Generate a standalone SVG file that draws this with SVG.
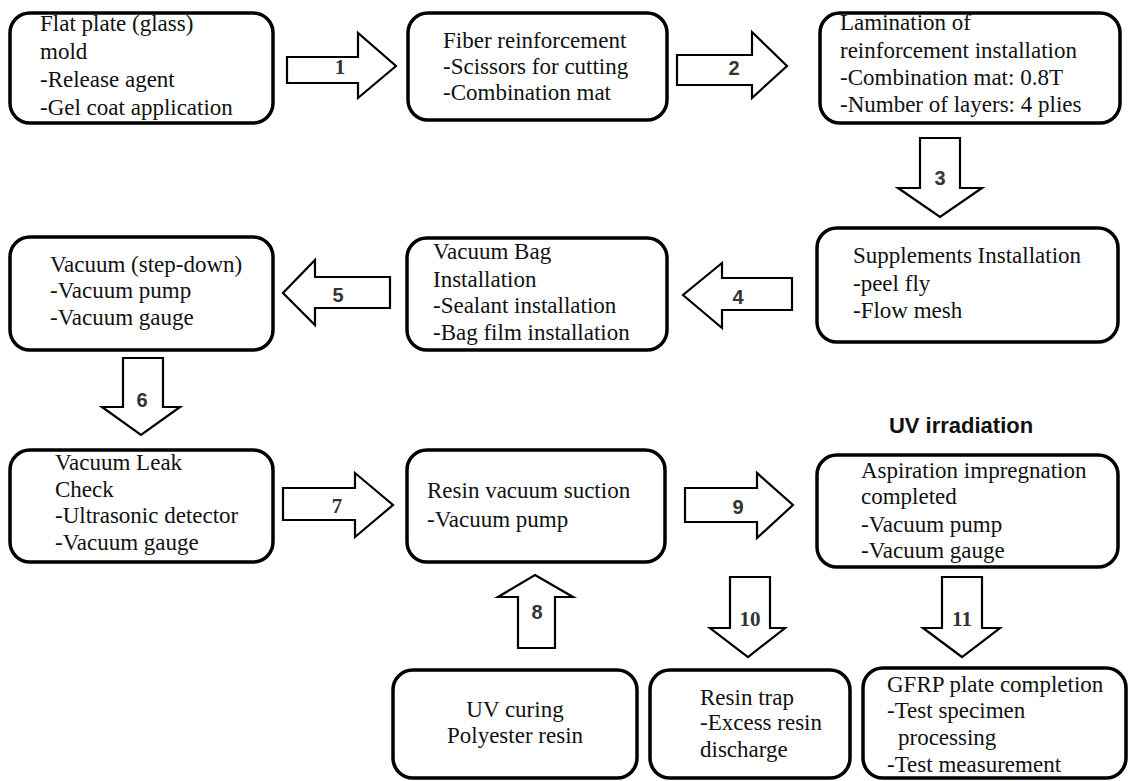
<svg xmlns="http://www.w3.org/2000/svg" width="1129" height="781" viewBox="0 0 1129 781">
<style>
.box{fill:#fff;stroke:#000;stroke-width:3.5}
.arr{fill:#fff;stroke:#000;stroke-width:2.2;stroke-linejoin:miter}
.t{font-family:"Liberation Serif","Times New Roman",serif;font-size:23px;fill:#111}
.n{font-family:"Liberation Sans",Arial,sans-serif;font-size:20px;font-weight:bold;fill:#333;text-anchor:middle}
.ns{font-family:"Liberation Serif","Times New Roman",serif;font-size:21px;font-weight:bold;fill:#333;text-anchor:middle}
.h{font-family:"Liberation Sans",Arial,sans-serif;font-size:22px;font-weight:bold;fill:#111;text-anchor:middle}
</style>
<rect width="1129" height="781" fill="#fff"/>
<g id="connectors">
<g id="a1"><polygon class="arr" points="287,57 358,57 358,33 396,66 358,98 358,83 287,83"/><text class="ns" x="340" y="74">1</text></g>
<g id="a2"><polygon class="arr" points="677,55 752,55 752,32 787,66 752,98 752,85 677,85"/><text class="n" x="734" y="75">2</text></g>
<g id="a3"><polygon class="arr" points="920,138 960,138 960,188 982,188 940,217 898,188 920,188"/><text class="n" x="940" y="185">3</text></g>
<g id="a4"><polygon class="arr" points="792,278 722,278 722,263 683,295 722,328 722,310 792,310"/><text class="n" x="738" y="304">4</text></g>
<g id="a5"><polygon class="arr" points="390,277 315,277 315,260 283,293 315,325 315,308 390,308"/><text class="n" x="338" y="302">5</text></g>
<g id="a6"><polygon class="arr" points="123,358 163,358 163,407 180,407 141,435 102,407 123,407"/><text class="n" x="142" y="407">6</text></g>
<g id="a7"><polygon class="arr" points="283,488 355,488 355,473 393,505 355,537 355,520 283,520"/><text class="ns" x="337" y="513">7</text></g>
<g id="a9"><polygon class="arr" points="685,488 757,488 757,473 793,505 757,538 757,522 685,522"/><text class="n" x="738" y="514">9</text></g>
<g id="a8"><polygon class="arr" points="535,575 573,597 555,597 555,648 518,648 518,597 498,597"/><text class="n" x="537" y="619">8</text></g>
<g id="a10"><polygon class="arr" points="730,577 770,577 770,628 785,628 748,657 710,628 730,628"/><text class="ns" x="750" y="626">10</text></g>
<g id="a11"><polygon class="arr" points="942,577 982,577 982,628 1000,628 962,657 923,628 942,628"/><text class="ns" x="962" y="626">11</text></g>
</g>
<g id="n1"><rect class="box" x="10" y="13" width="263" height="110" rx="20"/>
<text class="t" x="40" y="31">Flat plate (glass)</text><text class="t" x="40" y="59">mold</text><text class="t" x="40" y="87">-Release agent</text><text class="t" x="40" y="115">-Gel coat application</text></g>
<g id="n2"><rect class="box" x="408" y="13" width="259" height="107" rx="20"/>
<text class="t" x="443" y="48">Fiber reinforcement</text><text class="t" x="443" y="74">-Scissors  for cutting</text><text class="t" x="443" y="100">-Combination mat</text></g>
<g id="n3"><rect class="box" x="820" y="13" width="300" height="110" rx="20"/>
<text class="t" x="840" y="30">Lamination of</text><text class="t" x="840" y="58">reinforcement installation</text><text class="t" x="840" y="85">-Combination mat: 0.8T</text><text class="t" x="840" y="112">-Number of layers: 4 plies</text></g>
<g id="n4"><rect class="box" x="817" y="228" width="301" height="114" rx="20"/>
<text class="t" x="853" y="263">Supplements Installation</text><text class="t" x="853" y="291">-peel fly</text><text class="t" x="853" y="318">-Flow mesh</text></g>
<g id="n5"><rect class="box" x="407" y="238" width="260" height="112" rx="20"/>
<text class="t" x="433" y="259">Vacuum Bag</text><text class="t" x="433" y="287">Installation</text><text class="t" x="433" y="313">-Sealant installation</text><text class="t" x="433" y="340">-Bag film installation</text></g>
<g id="n6"><rect class="box" x="10" y="237" width="263" height="113" rx="20"/>
<text class="t" x="50" y="272">Vacuum (step-down)</text><text class="t" x="50" y="298">-Vacuum pump</text><text class="t" x="50" y="325">-Vacuum gauge</text></g>
<g id="n7"><rect class="box" x="10" y="450" width="263" height="112" rx="20"/>
<text class="t" x="55" y="470">Vacuum Leak</text><text class="t" x="55" y="497">Check</text><text class="t" x="55" y="523">-Ultrasonic detector</text><text class="t" x="55" y="550">-Vacuum gauge</text></g>
<g id="n8"><rect class="box" x="407" y="450" width="258" height="112" rx="20"/>
<text class="t" x="427" y="498">Resin vacuum suction</text><text class="t" x="427" y="527">-Vacuum pump</text></g>
<g id="uv"><text class="h" x="961" y="433">UV irradiation</text></g>
<g id="n9"><rect class="box" x="817" y="455" width="301" height="112" rx="20"/>
<text class="t" x="861" y="478">Aspiration impregnation</text><text class="t" x="861" y="504">completed</text><text class="t" x="861" y="532">-Vacuum pump</text><text class="t" x="861" y="558">-Vacuum gauge</text></g>
<g id="n10"><rect class="box" x="393" y="670" width="244" height="108" rx="20"/>
<text class="t" x="515" y="717" text-anchor="middle">UV curing</text><text class="t" x="515" y="743" text-anchor="middle">Polyester resin</text></g>
<g id="n11"><rect class="box" x="650" y="670" width="200" height="108" rx="20"/>
<text class="t" x="700" y="705">Resin trap</text><text class="t" x="700" y="730">-Excess resin</text><text class="t" x="700" y="757">discharge</text></g>
<g id="n12"><rect class="box" x="863" y="668" width="263" height="110" rx="20"/>
<text class="t" x="887" y="692">GFRP plate completion</text><text class="t" x="887" y="718">-Test specimen</text><text class="t" x="898" y="745">processing</text><text class="t" x="887" y="772">-Test measurement</text></g>
</svg>
